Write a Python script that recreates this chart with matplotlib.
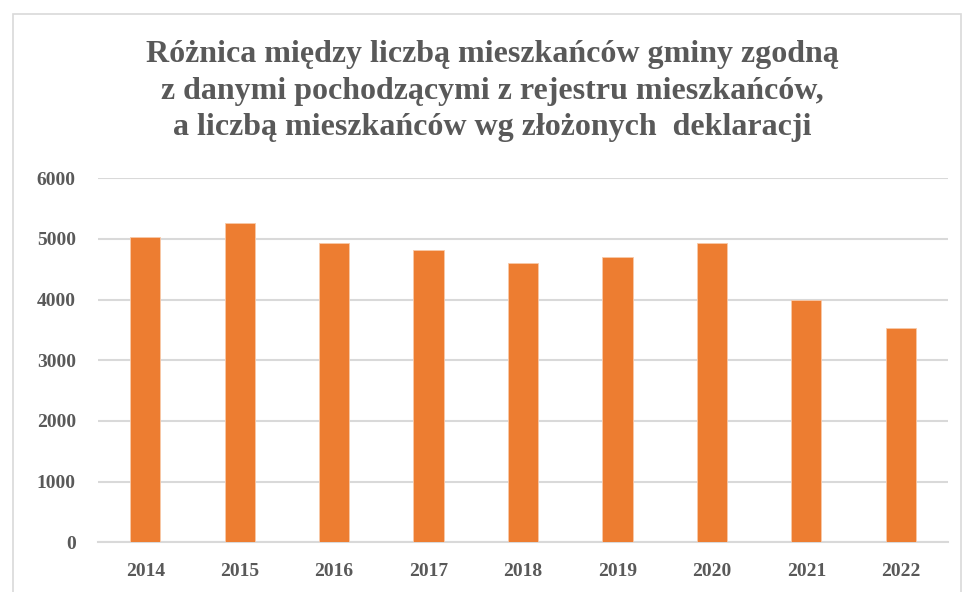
import matplotlib
matplotlib.use("Agg")
import matplotlib.pyplot as plt
from matplotlib.patches import Rectangle

years = ["2014", "2015", "2016", "2017", "2018", "2019", "2020", "2021", "2022"]
values = [5030, 5260, 4930, 4820, 4610, 4710, 4930, 3990, 3530]
yticks = [0, 1000, 2000, 3000, 4000, 5000, 6000]
title = ("Różnica między liczbą mieszkańców gminy zgodną\n"
         "z danymi pochodzącymi z rejestru mieszkańców,\n"
         "a liczbą mieszkańców wg złożonych  deklaracji")

W, H = 963, 592
fig = plt.figure(figsize=(W / 100, H / 100), dpi=100)
fig.patch.set_facecolor("white")
fig.patches.append(Rectangle((13 / W, 0 - 0.1), (961 - 13) / W, (H - 14) / H + 0.1,
                             transform=fig.transFigure, fill=False,
                             edgecolor="#D9D9D9", linewidth=1.2))

ax = fig.add_axes([98 / W, 1 - 542.3 / H, (948 - 98) / W, (542.3 - 178.3) / H])
x = list(range(len(years)))
ax.bar(x, values, width=0.32, color="#ED7D31", edgecolor="#F8C9A8", linewidth=0.6, zorder=3)
ax.set_xlim(-0.5, len(years) - 0.5)
ax.set_ylim(0, 6000)
ax.set_yticks(yticks)
ax.set_xticks(x)
ax.set_xticklabels(years)
ax.yaxis.grid(True, color="#D9D9D9", linewidth=1.5, zorder=0)
ax.set_axisbelow(True)
for s in ["top", "right", "left"]:
    ax.spines[s].set_visible(False)
ax.spines["bottom"].set_color("#D9D9D9")
ax.spines["bottom"].set_linewidth(1.5)
ax.tick_params(axis="both", length=0, colors="#595959")
ax.tick_params(axis="y", pad=16)
ax.tick_params(axis="x", pad=15)
for lab in ax.get_xticklabels() + ax.get_yticklabels():
    lab.set_fontfamily("Liberation Serif")
    lab.set_fontweight("bold")
    lab.set_fontsize(14)

fig.text(492 / W, 1 - 91 / H, title, ha="center", va="center", fontsize=23,
         fontweight="bold", family="Liberation Serif", color="#595959",
         linespacing=1.33)

fig.savefig("out.png", dpi=100, facecolor="white")
